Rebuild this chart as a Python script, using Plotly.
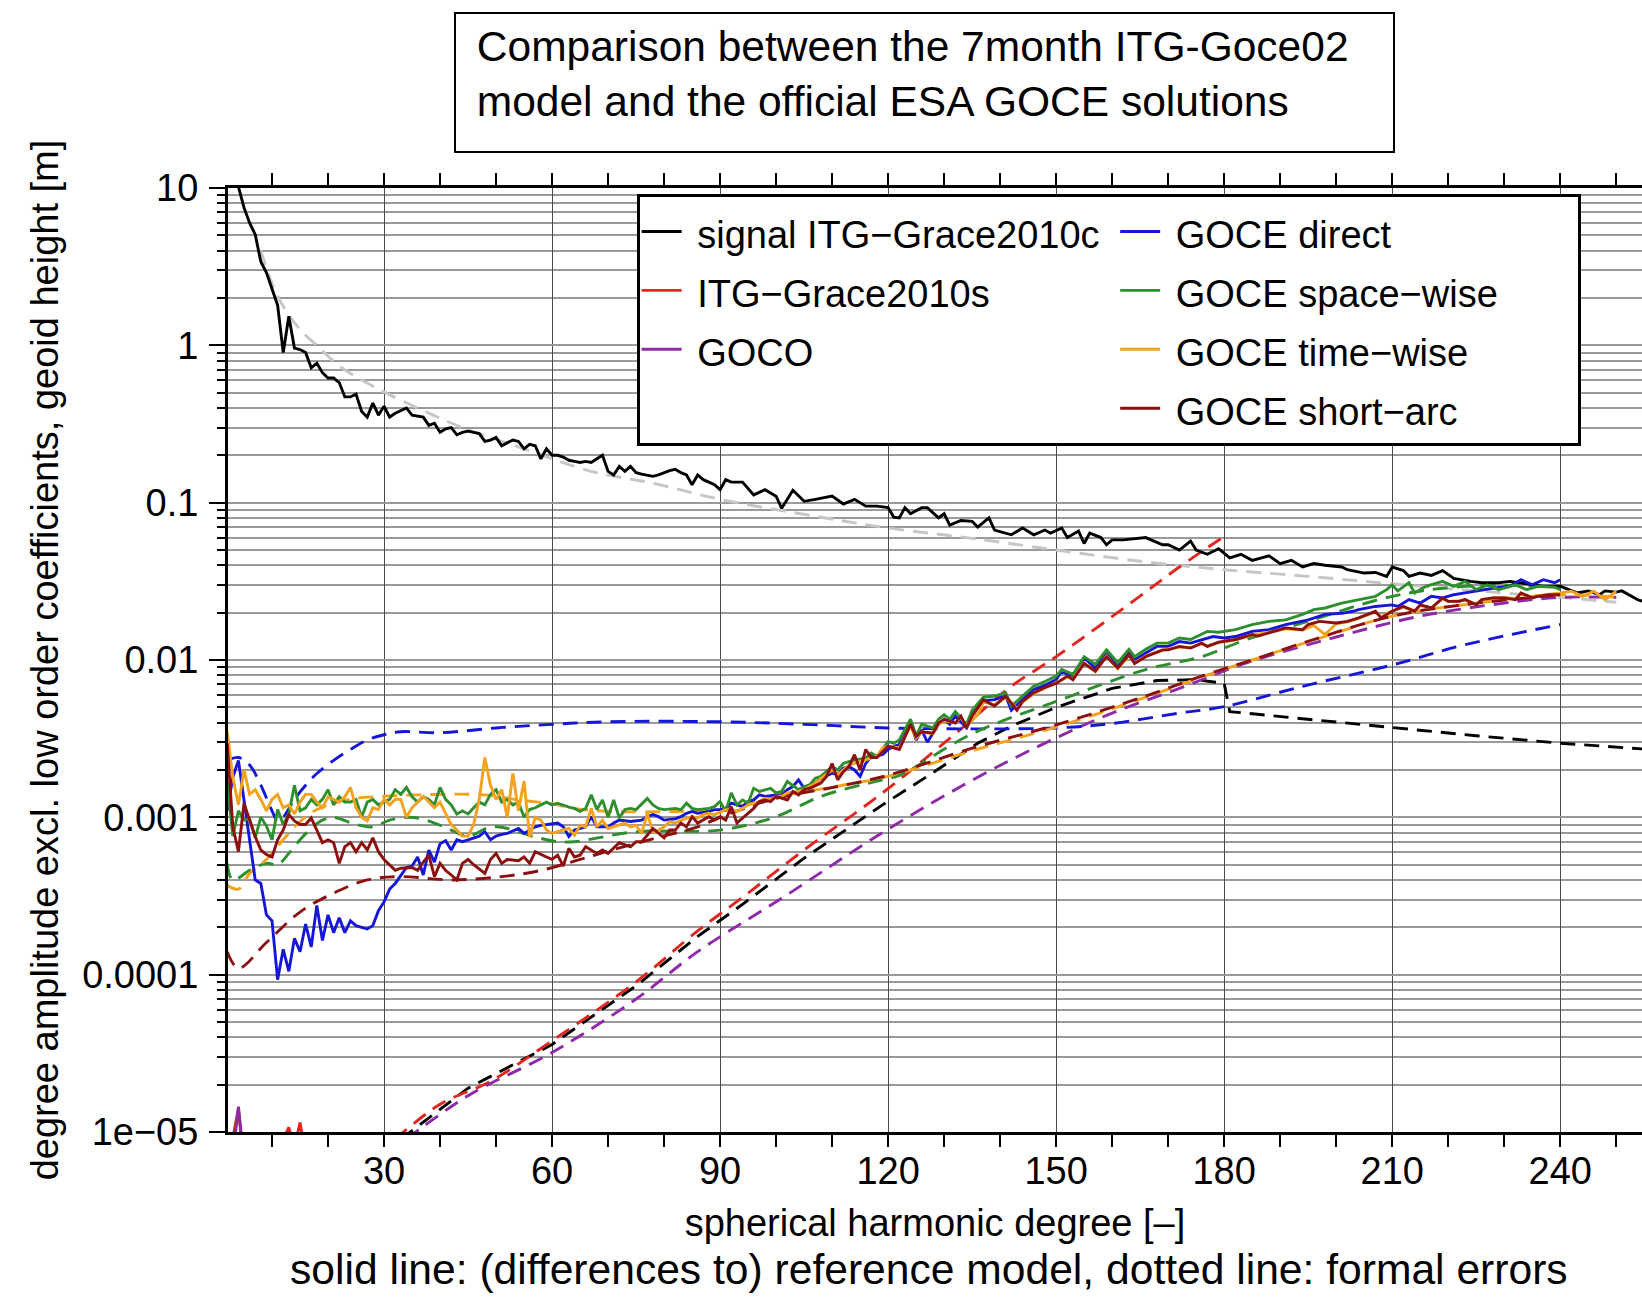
import plotly.graph_objects as go

# ---------------- data (degree, value) ----------------
SIGNAL = [(2,20),(3,14),(4,10.2),(5,7.5),(6,6.0),(7,5.06),(8,3.4),(9,2.9),(10,2.3),(11,1.8),(12,0.9),(13,1.53),(14,0.96),(15,0.94),(16,0.9),(17,0.72),(18,0.77),(19,0.67),(20,0.62),(21,0.62),(22,0.58),(23,0.47),(24,0.47),(25,0.49),(26,0.38),(27,0.35),(28,0.43),(29,0.36),(30,0.41),(31,0.35),(32,0.37),(33,0.385),(34,0.40),(35,0.36),(36,0.355),(37,0.35),(38,0.31),(39,0.32),(40,0.28),(41,0.295),(42,0.30),(43,0.27),(44,0.28),(45,0.285),(46,0.28),(47,0.275),(48,0.245),(49,0.25),(50,0.26),(51,0.23),(52,0.24),(53,0.25),(54,0.245),(55,0.22),(56,0.235),(57,0.23),(58,0.19),(59,0.22),(60,0.2),(61,0.2),(62,0.195),(63,0.186),(64,0.183),(65,0.18),(66,0.183),(67,0.18),(68,0.19),(69,0.2),(70,0.158),(71,0.15),(72,0.17),(73,0.158),(74,0.17),(75,0.155),(76,0.152),(77,0.15),(78,0.147),(79,0.15),(80,0.155),(81,0.16),(82,0.163),(83,0.155),(84,0.15),(85,0.13),(86,0.15),(87,0.14),(88,0.135),(89,0.13),(90,0.121),(91,0.14),(92,0.135),(94,0.135),(96,0.112),(98,0.121),(100,0.11),(101,0.092),(103,0.12),(105,0.102),(107,0.105),(110,0.11),(112,0.098),(114,0.105),(116,0.095),(118,0.095),(120,0.093),(121,0.081),(122,0.08),(123,0.093),(124,0.085),(126,0.093),(127,0.093),(129,0.08),(130,0.085),(131,0.072),(133,0.077),(135,0.076),(136,0.07),(138,0.08),(139,0.067),(142,0.0625),(144,0.069),(146,0.0625),(148,0.067),(149,0.064),(151,0.069),(152,0.06),(154,0.066),(155,0.055),(156,0.064),(158,0.06),(159,0.054),(160,0.058),(162,0.058),(166,0.06),(169,0.054),(170,0.054),(172,0.05),(174,0.057),(175,0.05),(177,0.047),(179,0.051),(181,0.0445),(183,0.047),(185,0.043),(188,0.046),(190,0.041),(192,0.043),(194,0.039),(196,0.041),(198,0.04),(201,0.039),(202,0.0375),(205,0.0357),(207,0.036),(209,0.034),(210,0.039),(212,0.037),(213,0.034),(215,0.0357),(217,0.0345),(219,0.037),(221,0.033),(224,0.0316),(226,0.031),(229,0.031),(231,0.0316),(234,0.0305),(237,0.0294),(240,0.0295),(243,0.0267),(245,0.0275),(247,0.026),(248,0.0275),(250,0.027),(251,0.0275),(254,0.024),(256,0.023)]

KAULA = [(8,4.0),(11,2.05),(15,1.26),(18,1.0),(22,0.74),(28,0.55),(36,0.4),(44,0.3),(55,0.22),(67,0.158),(78,0.133),(90,0.105),(107,0.082),(120,0.069),(134,0.06),(150,0.05),(166,0.042),(180,0.0375),(195,0.034),(210,0.0305),(225,0.0275),(240,0.025),(250,0.0233)]

GRACE_ERR = [(32,9e-6),(40,1.5e-5),(49,2.1e-5),(60,3.8e-5),(75,9e-5),(86,1.9e-4),(94,3.1e-4),(105,6.2e-4),(119,1.43e-3),(132,3.4e-3),(142,6.8e-3),(150,1.05e-2),(164,2.4e-2),(172,3.9e-2),(180,6.1e-2)]

GOCE02_ERR = [(33,9e-6),(45,1.9e-5),(60,3.6e-5),(75,8.5e-5),(86,1.75e-4),(94,2.8e-4),(105,5.5e-4),(119,1.2e-3),(126,1.73e-3),(136,2.96e-3),(142,3.8e-3),(150,5.0e-3),(160,6.6e-3),(168,7.4e-3),(175,7.5e-3),(180,7.1e-3),(181,4.7e-3),(195,4.2e-3),(210,3.7e-3),(225,3.3e-3),(240,2.96e-3),(256,2.7e-3)]

GOCO_ERR = [(34,9e-6),(45,1.7e-5),(60,3.2e-5),(75,7e-5),(86,1.4e-4),(101,3.06e-4),(119,8e-4),(136,1.8e-3),(150,3.2e-3),(160,4.6e-3),(172,6.6e-3),(184,9.6e-3),(200,1.4e-2),(215,1.9e-2),(230,2.3e-2),(240,2.5e-2),(250,2.5e-2)]

DIRECT_ERR = [(2,2.3e-3),(4,2.4e-3),(6,2.15e-3),(8,1.6e-3),(10,1.1e-3),(11,9.5e-4),(12,1.0e-3),(14,1.3e-3),(16,1.6e-3),(18,1.9e-3),(21,2.3e-3),(24,2.7e-3),(27,3.1e-3),(30,3.35e-3),(33,3.5e-3),(40,3.45e-3),(50,3.7e-3),(60,3.9e-3),(70,4.05e-3),(90,4.05e-3),(105,3.9e-3),(120,3.7e-3),(135,3.65e-3),(150,3.7e-3),(160,3.95e-3),(172,4.6e-3),(180,5.05e-3),(194,6.8e-3),(210,9.3e-3),(223,1.25e-2),(240,1.68e-2)]

SPACEWISE_ERR = [(2,5.1e-4),(3,4.0e-4),(6,4.6e-4),(9,5.1e-4),(11,5.0e-4),(13,5.9e-4),(15,7.2e-4),(17,8.5e-4),(19,9.6e-4),(21,1.0e-3),(25,9.0e-4),(28,8.7e-4),(31,9.6e-4),(34,1.0e-3),(36,9.9e-4),(39,9.2e-4),(42,8.3e-4),(45,7.6e-4),(49,8.7e-4),(52,8.5e-4),(57,7.5e-4),(61,7.0e-4),(64,7.0e-4),(75,8.1e-4),(90,8.3e-4),(100,1.01e-3),(108,1.36e-3),(118,1.7e-3),(122,1.85e-3),(135,3.4e-3),(150,5.45e-3),(166,8.7e-3),(176,1.05e-2),(184,1.35e-2),(194,1.72e-2),(210,2.54e-2),(223,2.94e-2),(240,2.94e-2)]

TIMEWISE_ERR = [(2,3.7e-4),(4,3.5e-4),(6,4.4e-4),(9,5.4e-4),(12,7.2e-4),(15,9.4e-4),(18,1.12e-3),(21,1.23e-3),(25,1.32e-3),(30,1.36e-3),(36,1.39e-3),(48,1.39e-3),(54,1.29e-3),(60,1.22e-3),(64,1.14e-3),(70,1.09e-3),(82,1.09e-3),(90,1.12e-3),(100,1.35e-3),(111,1.58e-3),(120,1.82e-3),(135,2.65e-3),(150,3.75e-3),(166,5.8e-3),(176,7.8e-3),(185,1.0e-2),(194,1.27e-2),(210,1.9e-2),(223,2.25e-2),(240,2.6e-2),(250,2.5e-2)]

SHORTARC_ERR = [(2,1.4e-4),(4,1.1e-4),(9,1.6e-4),(15,2.5e-4),(21,3.3e-4),(27,4.0e-4),(33,4.2e-4),(42,4.0e-4),(51,4.2e-4),(58,4.6e-4),(65,5.4e-4),(70,6.1e-4),(78,7.3e-4),(86,8.7e-4),(90,1.0e-3),(100,1.32e-3),(111,1.57e-3),(120,1.85e-3),(135,2.75e-3),(150,3.87e-3),(166,5.9e-3),(176,7.9e-3),(185,1.0e-2),(194,1.28e-2),(210,1.9e-2),(223,2.25e-2),(240,2.6e-2)]

GRACE_DIFF = [(2,6e-6),(3,9e-6),(4,1.4e-5),(5,6e-6),(6,4e-6),(8,5e-6),(10,4e-6),(11,7e-6),(12,9e-6),(13,1.07e-5),(14,8e-6),(15,1.15e-5),(16,7e-6),(18,5e-6),(20,4e-6)]

GOCO_DIFF = [(2,4e-6),(3,7e-6),(4,1.45e-5),(5,6e-6),(6,3e-6),(8,3e-6)]

DIRECT_DIFF = [(2,1.1e-3),(3,1.8e-3),(4,2.3e-3),(5,1.3e-3),(6,7e-4),(7,4.0e-4),(8,3.8e-4),(9,2.4e-4),(10,2.2e-4),(11,9.3e-5),(12,1.45e-4),(13,1.05e-4),(14,1.7e-4),(15,1.4e-4),(16,2.1e-4),(17,1.5e-4),(18,2.75e-4),(19,1.65e-4),(20,2.4e-4),(21,1.85e-4),(22,2.3e-4),(23,1.85e-4),(24,2.2e-4),(25,2.05e-4),(26,2.0e-4),(27,1.95e-4),(28,2.05e-4),(29,2.55e-4),(30,2.9e-4),(31,3.5e-4),(32,3.8e-4),(33,4.3e-4),(34,4.8e-4),(35,4.9e-4),(36,5.6e-4),(37,4.3e-4),(38,6.2e-4),(39,5.2e-4),(40,6.8e-4),(41,7.1e-4),(42,6.2e-4),(43,7.2e-4),(44,7.0e-4),(45,7.2e-4),(46,7.4e-4),(47,7.6e-4),(48,8.1e-4),(49,7.2e-4),(50,7.6e-4),(51,7.8e-4),(52,7.9e-4),(53,8.2e-4),(54,8.5e-4),(55,7.9e-4),(56,8.3e-4),(57,8.7e-4),(58,8.9e-4),(59,9.0e-4),(60,9.1e-4),(61,9.2e-4),(62,8.7e-4),(63,7.55e-4),(64,8.3e-4),(66,8.7e-4),(67,1.01e-3),(68,8.7e-4),(70,8.7e-4),(71,9.2e-4),(72,9.6e-4),(74,9.4e-4),(76,9.6e-4),(77,1.01e-3),(78,1.04e-3),(79,1.01e-3),(80,9.6e-4),(82,9.8e-4),(83,1.01e-3),(84,1.06e-3),(85,1.09e-3),(86,1.06e-3),(88,1.09e-3),(89,1.12e-3),(90,1.12e-3),(91,1.14e-3),(92,1.23e-3),(94,1.17e-3),(95,1.26e-3),(96,1.29e-3),(97,1.39e-3),(98,1.36e-3),(100,1.39e-3),(101,1.39e-3),(102,1.5e-3),(103,1.57e-3),(104,1.73e-3),(105,1.53e-3),(106,1.61e-3),(107,1.65e-3),(108,1.77e-3),(110,1.91e-3),(111,1.87e-3),(112,2.05e-3),(113,2.1e-3),(114,2.0e-3),(115,1.82e-3),(116,2.2e-3),(117,2.44e-3),(119,2.5e-3),(120,2.7e-3),(121,2.83e-3),(122,2.9e-3),(124,4.0e-3),(125,3.1e-3),(126,3.6e-3),(127,3.0e-3),(129,3.9e-3),(130,4.2e-3),(131,3.9e-3),(132,4.4e-3),(134,3.7e-3),(135,4.5e-3),(137,5.5e-3),(139,5.6e-3),(141,5.9e-3),(142,4.8e-3),(144,5.6e-3),(146,6.5e-3),(148,6.9e-3),(150,7.5e-3),(151,8.5e-3),(153,7.7e-3),(155,1.03e-2),(157,8.9e-3),(159,1.14e-2),(161,9.1e-3),(163,1.11e-2),(164,1.0e-2),(166,1.11e-2),(168,1.22e-2),(170,1.22e-2),(172,1.31e-2),(174,1.28e-2),(176,1.35e-2),(178,1.41e-2),(180,1.38e-2),(182,1.41e-2),(185,1.52e-2),(188,1.56e-2),(191,1.68e-2),(194,1.76e-2),(195,1.8e-2),(198,1.95e-2),(201,1.98e-2),(203,2.04e-2),(204,2.09e-2),(207,2.19e-2),(210,2.24e-2),(211,2.19e-2),(213,2.42e-2),(215,2.3e-2),(217,2.54e-2),(219,2.48e-2),(221,2.6e-2),(223,2.67e-2),(226,2.8e-2),(228,2.86e-2),(231,2.94e-2),(233,3.24e-2),(235,3.0e-2),(237,3.24e-2),(239,3.1e-2),(240,3.24e-2)]

SPACEWISE_DIFF = [(2,1.7e-3),(3,7.6e-4),(4,1.1e-3),(5,9.6e-4),(6,9.8e-4),(7,7.4e-4),(8,1.0e-3),(9,8.8e-4),(10,7.2e-4),(11,1.12e-3),(12,9e-4),(13,1.05e-3),(14,1.6e-3),(15,1.1e-3),(16,1.15e-3),(17,1.3e-3),(18,1.2e-3),(19,1.3e-3),(20,1.5e-3),(21,1.2e-3),(22,1.35e-3),(23,1.25e-3),(24,1.25e-3),(25,1.3e-3),(26,1.0e-3),(27,1.25e-3),(28,1.3e-3),(29,1.2e-3),(30,1.25e-3),(31,1.3e-3),(32,1.5e-3),(33,1.4e-3),(34,1.55e-3),(35,1.35e-3),(36,1.25e-3),(37,1.35e-3),(38,1.3e-3),(39,1.2e-3),(40,1.55e-3),(41,1.3e-3),(42,1.2e-3),(43,1.05e-3),(44,1.1e-3),(45,1.05e-3),(46,1.15e-3),(47,1.25e-3),(48,1.2e-3),(49,1.4e-3),(50,1.5e-3),(51,1.25e-3),(52,1.3e-3),(53,1.2e-3),(54,1.25e-3),(55,1.0e-3),(56,1.12e-3),(57,1.15e-3),(58,1.2e-3),(59,1.25e-3),(60,1.2e-3),(61,1.23e-3),(63,1.16e-3),(64,1.14e-3),(65,1.09e-3),(66,1.14e-3),(67,1.39e-3),(68,1.12e-3),(69,1.29e-3),(70,1.0e-3),(71,1.29e-3),(72,9.9e-4),(73,1.12e-3),(74,1.14e-3),(75,1.12e-3),(77,1.32e-3),(78,1.2e-3),(79,1.14e-3),(80,1.12e-3),(82,1.14e-3),(83,1.12e-3),(84,1.23e-3),(85,1.14e-3),(86,1.12e-3),(88,1.14e-3),(89,1.17e-3),(90,1.26e-3),(91,1.09e-3),(92,1.43e-3),(93,1.2e-3),(94,1.29e-3),(95,1.23e-3),(96,1.53e-3),(97,1.46e-3),(99,1.53e-3),(100,1.43e-3),(101,1.46e-3),(102,1.69e-3),(104,1.5e-3),(105,1.57e-3),(106,1.61e-3),(107,1.77e-3),(108,1.82e-3),(110,2.1e-3),(111,2.0e-3),(112,2.2e-3),(113,2.26e-3),(114,2.32e-3),(116,2.38e-3),(117,2.56e-3),(118,2.44e-3),(119,2.7e-3),(120,3.03e-3),(121,2.96e-3),(122,3.1e-3),(124,4.2e-3),(125,3.3e-3),(126,3.9e-3),(128,3.7e-3),(129,4.2e-3),(130,4.5e-3),(131,4.2e-3),(132,4.7e-3),(134,3.9e-3),(135,4.8e-3),(137,5.8e-3),(139,5.9e-3),(141,6.2e-3),(142,5.1e-3),(144,5.9e-3),(146,6.8e-3),(148,7.3e-3),(150,7.9e-3),(151,8.7e-3),(153,8.1e-3),(155,1.05e-2),(157,9.4e-3),(159,1.16e-2),(161,9.6e-3),(163,1.17e-2),(164,1.05e-2),(166,1.17e-2),(168,1.28e-2),(170,1.28e-2),(172,1.38e-2),(174,1.35e-2),(176,1.45e-2),(177,1.52e-2),(179,1.5e-2),(182,1.56e-2),(185,1.68e-2),(188,1.76e-2),(191,1.8e-2),(194,1.95e-2),(196,2.09e-2),(198,2.14e-2),(201,2.3e-2),(204,2.42e-2),(207,2.54e-2),(209,2.8e-2),(210,3.0e-2),(211,2.75e-2),(213,3.1e-2),(214,2.67e-2),(216,2.94e-2),(219,3.16e-2),(221,2.94e-2),(223,3.16e-2),(225,2.8e-2),(227,3.0e-2),(229,2.8e-2),(232,3.0e-2),(234,2.8e-2),(236,2.94e-2),(239,2.9e-2),(240,2.8e-2)]

TIMEWISE_DIFF = [(2,3.5e-3),(3,1.8e-3),(4,1.2e-3),(5,2.0e-3),(6,1.4e-3),(7,1.5e-3),(8,1.3e-3),(9,1.1e-3),(10,1.3e-3),(11,1.4e-3),(12,1.15e-3),(13,1.2e-3),(14,1.05e-3),(15,1.25e-3),(16,1.4e-3),(17,1.4e-3),(18,1.25e-3),(19,1.15e-3),(20,1.35e-3),(21,1.3e-3),(22,1.25e-3),(23,1.35e-3),(24,1.55e-3),(25,1.15e-3),(26,1.0e-3),(27,9.5e-4),(28,1.15e-3),(29,1.12e-3),(30,1.3e-3),(31,1.2e-3),(32,1.3e-3),(33,1.3e-3),(34,1.0e-3),(35,1.15e-3),(36,1.25e-3),(37,1.36e-3),(38,1.25e-3),(39,1.15e-3),(40,1.25e-3),(41,1.06e-3),(42,9e-4),(43,8.3e-4),(44,7.6e-4),(45,7.6e-4),(46,9e-4),(47,1.3e-3),(48,2.4e-3),(49,1.6e-3),(50,1.3e-3),(51,1.5e-3),(52,1.0e-3),(53,1.9e-3),(54,1.1e-3),(55,1.7e-3),(56,7.5e-4),(57,1.0e-3),(58,9.6e-4),(59,8.3e-4),(60,7.9e-4),(61,8.1e-4),(63,8.5e-4),(64,7.7e-4),(65,8.9e-4),(66,8.7e-4),(67,1.14e-3),(68,8.7e-4),(69,9.6e-4),(70,8.5e-4),(72,8.9e-4),(73,9.2e-4),(74,8.7e-4),(75,8.9e-4),(76,7.9e-4),(77,1.06e-3),(78,8.1e-4),(79,8.3e-4),(80,8.7e-4),(81,9.4e-4),(82,9.2e-4),(83,9.6e-4),(85,1.01e-3),(86,9.9e-4),(87,1.04e-3),(88,1.06e-3),(89,1.04e-3),(91,1.12e-3),(92,1.12e-3),(93,1.09e-3),(94,1.14e-3),(95,1.2e-3),(97,1.26e-3),(98,1.32e-3),(99,1.29e-3),(100,1.36e-3),(101,1.36e-3),(102,1.43e-3),(104,1.46e-3),(105,1.5e-3),(106,1.57e-3),(107,1.65e-3),(108,1.77e-3),(110,2.0e-3),(111,1.87e-3),(112,2.0e-3),(113,2.15e-3),(114,2.2e-3),(116,2.32e-3),(117,2.38e-3),(118,2.44e-3),(119,2.76e-3),(120,2.83e-3),(122,2.76e-3),(124,3.8e-3),(125,3.2e-3),(126,3.5e-3),(128,3.4e-3),(129,3.9e-3),(130,4.1e-3),(132,4.0e-3),(133,4.3e-3),(134,3.8e-3),(136,4.5e-3),(137,5.4e-3),(139,5.2e-3),(141,5.8e-3),(143,4.9e-3),(144,5.4e-3),(146,6.1e-3),(148,6.6e-3),(150,7.2e-3),(152,7.8e-3),(153,7.6e-3),(155,9.6e-3),(157,8.4e-3),(159,1.06e-2),(161,8.8e-3),(163,1.07e-2),(164,9.6e-3),(166,1.06e-2),(169,1.15e-2),(170,1.17e-2),(172,1.21e-2),(174,1.2e-2),(176,1.27e-2),(177,1.22e-2),(179,1.29e-2),(182,1.34e-2),(185,1.44e-2),(189,1.52e-2),(191,1.58e-2),(194,1.55e-2),(196,1.66e-2),(198,1.45e-2),(200,1.7e-2),(202,1.75e-2),(204,1.84e-2),(207,2.02e-2),(208,1.88e-2),(210,2.05e-2),(212,2.17e-2),(214,2.05e-2),(215,2.22e-2),(217,2.15e-2),(219,2.45e-2),(220,2.36e-2),(222,2.38e-2),(223,2.42e-2),(225,2.26e-2),(226,2.42e-2),(228,2.48e-2),(230,2.5e-2),(232,2.45e-2),(233,2.65e-2),(235,2.5e-2),(236,2.56e-2),(238,2.6e-2),(240,2.67e-2),(242,2.74e-2),(244,2.54e-2),(246,2.74e-2),(248,2.42e-2),(250,2.74e-2)]

SHORTARC_DIFF = [(2,2.95e-3),(3,8.7e-4),(4,6.05e-4),(5,1.23e-3),(6,9.6e-4),(7,7.55e-4),(8,6.2e-4),(9,5.8e-4),(10,5.6e-4),(11,7.2e-4),(12,8.3e-4),(13,1.04e-3),(14,9.5e-4),(15,9e-4),(16,9e-4),(17,9.9e-4),(18,8.3e-4),(19,6.9e-4),(20,7.2e-4),(21,6.9e-4),(22,5.1e-4),(23,6.5e-4),(24,6.9e-4),(25,6.05e-4),(26,6.9e-4),(27,6.2e-4),(28,7.4e-4),(29,6.05e-4),(30,5.4e-4),(31,5.0e-4),(32,4.6e-4),(33,4.75e-4),(34,4.75e-4),(35,4.8e-4),(36,4.6e-4),(37,5.2e-4),(38,5.75e-4),(39,4.2e-4),(40,5.1e-4),(41,4.6e-4),(42,4.3e-4),(43,4.0e-4),(44,5.1e-4),(45,5.4e-4),(46,5.0e-4),(48,4.4e-4),(49,5.4e-4),(50,5.9e-4),(51,5.1e-4),(52,5.4e-4),(54,5.3e-4),(55,5.6e-4),(56,5.1e-4),(57,6.05e-4),(59,5.6e-4),(60,5.4e-4),(61,5.75e-4),(62,4.9e-4),(63,6.35e-4),(64,5.6e-4),(65,5.75e-4),(66,6.5e-4),(68,5.9e-4),(69,6.2e-4),(70,5.9e-4),(71,6.35e-4),(72,6.9e-4),(74,6.5e-4),(75,7.0e-4),(76,7.0e-4),(77,7.7e-4),(78,8.5e-4),(80,7.4e-4),(81,8.3e-4),(82,8.3e-4),(83,9.2e-4),(84,8.7e-4),(85,1.01e-3),(86,9.2e-4),(88,1.01e-3),(89,9.6e-4),(90,1.01e-3),(91,9.6e-4),(92,1.17e-3),(93,9.2e-4),(95,1.06e-3),(96,1.14e-3),(97,1.26e-3),(98,1.29e-3),(99,1.26e-3),(100,1.36e-3),(102,1.29e-3),(103,1.46e-3),(104,1.39e-3),(105,1.5e-3),(106,1.53e-3),(108,1.65e-3),(109,1.82e-3),(110,2.2e-3),(111,1.73e-3),(112,1.95e-3),(113,2.1e-3),(114,2.5e-3),(115,2.0e-3),(116,2.7e-3),(117,2.4e-3),(118,2.4e-3),(120,2.83e-3),(121,2.76e-3),(122,2.7e-3),(124,3.9e-3),(125,3.27e-3),(126,3.5e-3),(128,3.43e-3),(129,3.97e-3),(130,4.2e-3),(132,3.97e-3),(133,4.4e-3),(134,3.7e-3),(135,4.4e-3),(137,5.6e-3),(139,5.1e-3),(141,5.9e-3),(143,4.8e-3),(144,5.45e-3),(146,6.2e-3),(148,6.7e-3),(150,7.1e-3),(152,7.9e-3),(153,7.5e-3),(155,9.5e-3),(157,8.5e-3),(159,1.05e-2),(161,8.9e-3),(163,1.08e-2),(164,9.5e-3),(166,1.05e-2),(169,1.16e-2),(170,1.16e-2),(172,1.22e-2),(174,1.19e-2),(176,1.28e-2),(177,1.22e-2),(179,1.3e-2),(182,1.35e-2),(185,1.45e-2),(186,1.42e-2),(189,1.52e-2),(191,1.6e-2),(194,1.56e-2),(195,1.68e-2),(197,1.76e-2),(200,1.72e-2),(202,1.76e-2),(204,1.85e-2),(207,2.04e-2),(208,1.85e-2),(210,2.04e-2),(212,2.19e-2),(214,2.04e-2),(215,2.24e-2),(217,2.14e-2),(219,2.48e-2),(220,2.36e-2),(222,2.36e-2),(223,2.42e-2),(225,2.24e-2),(226,2.42e-2),(228,2.48e-2),(230,2.48e-2),(232,2.42e-2),(233,2.67e-2),(235,2.48e-2),(236,2.54e-2),(238,2.6e-2),(240,2.6e-2)]

Y_TICK_VALUES = [1e-5, 1e-4, 1e-3, 1e-2, 0.1, 1, 10]
Y_TICK_LABELS = ["1e\u221205", "0.0001", "0.001", "0.01", "0.1", "1", "10"]

TITLE_TEXT = "\u00a0Comparison between the 7month ITG-Goce02<br>\u00a0model and the official ESA GOCE solutions"
FOOT_TEXT = "solid line: (differences to) reference model, dotted line: formal errors"

# ---------------- styling ----------------
FONT = "Liberation Sans, Arial, Helvetica, sans-serif"
C_BLACK = "#000000"
C_RED = "#e32520"
C_PURPLE = "#8e2aa8"
C_BLUE = "#1616d8"
C_GREEN = "#2e8f2e"
C_ORANGE = "#f4a11d"
C_DRED = "#8c1010"
C_GREY = "#c6c6c6"
DASH = "15px,9px"
LW = 2.9

fig = go.Figure()


def legend_label(text, pad_right=0):
    # legend entries drawn at 38px inside a 43px legend line (wider row spacing)
    return ('<span style="font-size:38px">\u00a0' + text + '\u00a0' * pad_right + '</span>')


def add(series, color, dashed, name=None, group=None, shape="linear", width=LW):
    xs = [p[0] for p in series]
    ys = [p[1] for p in series]
    fig.add_trace(go.Scatter(
        x=xs, y=ys, mode="lines", name=name,
        line=dict(color=color, width=width, dash=DASH if dashed else "solid", shape=shape),
        showlegend=name is not None, legendgroup=group, hoverinfo="skip"))


# formal errors (dashed)
add(KAULA, C_GREY, True, shape="spline")
add(GOCE02_ERR, C_BLACK, True)
add(GRACE_ERR, C_RED, True, shape="spline")
add(GOCO_ERR, C_PURPLE, True, shape="spline")
add(DIRECT_ERR, C_BLUE, True, shape="spline")
add(SPACEWISE_ERR, C_GREEN, True, shape="spline")
add(TIMEWISE_ERR, C_ORANGE, True, shape="spline")
add(SHORTARC_ERR, C_DRED, True, shape="spline")

# differences / signal (solid)
add(SIGNAL, C_BLACK, False, legend_label("signal ITG\u2212Grace2010c", 1), "a")
add(GRACE_DIFF, C_RED, False, legend_label("ITG\u2212Grace2010s"), "a")
add(GOCO_DIFF, C_PURPLE, False, legend_label("GOCO"), "a")
add(DIRECT_DIFF, C_BLUE, False, legend_label("GOCE direct"), "b")
add(SPACEWISE_DIFF, C_GREEN, False, legend_label("GOCE space\u2212wise", 7), "b")
add(TIMEWISE_DIFF, C_ORANGE, False, legend_label("GOCE time\u2212wise"), "b")
add(SHORTARC_DIFF, C_DRED, False, legend_label("GOCE short\u2212arc"), "b")

fig.update_layout(
    width=1642, height=1297,
    margin=dict(l=228, r=0, t=188, b=165, autoexpand=False),
    paper_bgcolor="white", plot_bgcolor="white",
    font=dict(family=FONT, size=38, color="black"),
    showlegend=True,
    legend=dict(
        orientation="h", traceorder="grouped",
        x=0.289, y=0.9936, xanchor="left", yanchor="top",
        bgcolor="white", bordercolor="black", borderwidth=3,
        font=dict(family=FONT, size=43, color="black"),
        itemwidth=40,
    ),
    xaxis=dict(
        range=[2.14, 254.6], tick0=0, dtick=30,
        ticks="outside", ticklen=12, tickwidth=1.5, tickcolor="black",
        showline=True, linewidth=3, linecolor="black", mirror="ticks",
        showgrid=True, gridcolor="#4a4a4a", gridwidth=1,
        zeroline=False,
        minor=dict(dtick=10, tick0=0, ticks="outside", ticklen=12, tickwidth=1.5,
                   tickcolor="black", showgrid=False),
        tickfont=dict(size=38),
        title=dict(text="spherical harmonic degree [\u2013]", font=dict(size=38), standoff=19),
    ),
    yaxis=dict(
        type="log", range=[-5, 1],
        tickmode="array", tickvals=Y_TICK_VALUES, ticktext=Y_TICK_LABELS,
        ticks="outside", ticklen=16, tickwidth=1.5, tickcolor="black",
        ticklabelstandoff=3,
        showline=True, linewidth=3, linecolor="black", mirror=False,
        showgrid=True, gridcolor="#9a9a9a", gridwidth=2,
        zeroline=False,
        minor=dict(dtick="D1", ticks="outside", ticklen=8, tickwidth=1.5,
                   tickcolor="black", showgrid=True, gridcolor="#9a9a9a", gridwidth=2),
        tickfont=dict(size=38),
        title=dict(text="degree amplitude excl. low order coefficients, geoid height [m]",
                   font=dict(size=38), standoff=12),
    ),
    annotations=[
        dict(text=TITLE_TEXT, xref="paper", yref="paper", x=0.4926, y=1.1118,
             xanchor="center", yanchor="middle", showarrow=False, align="left",
             valign="top",
             font=dict(family=FONT, size=42.5, color="black"),
             bordercolor="black", borderwidth=2, borderpad=9, bgcolor="white",
             width=919, height=119),
        dict(text=FOOT_TEXT, xref="paper", yref="paper", x=0.4958, y=-0.1451,
             xanchor="center", yanchor="middle", showarrow=False,
             font=dict(family=FONT, size=42.6, color="black")),
    ],
)

try:
    fig.update_xaxes(ticklabelstandoff=-9)
except Exception:
    pass

fig.write_html(
    "out.html",
    config={"displayModeBar": False},
    post_script="document.body.style.margin='0px';document.body.style.overflow='hidden';",
)
